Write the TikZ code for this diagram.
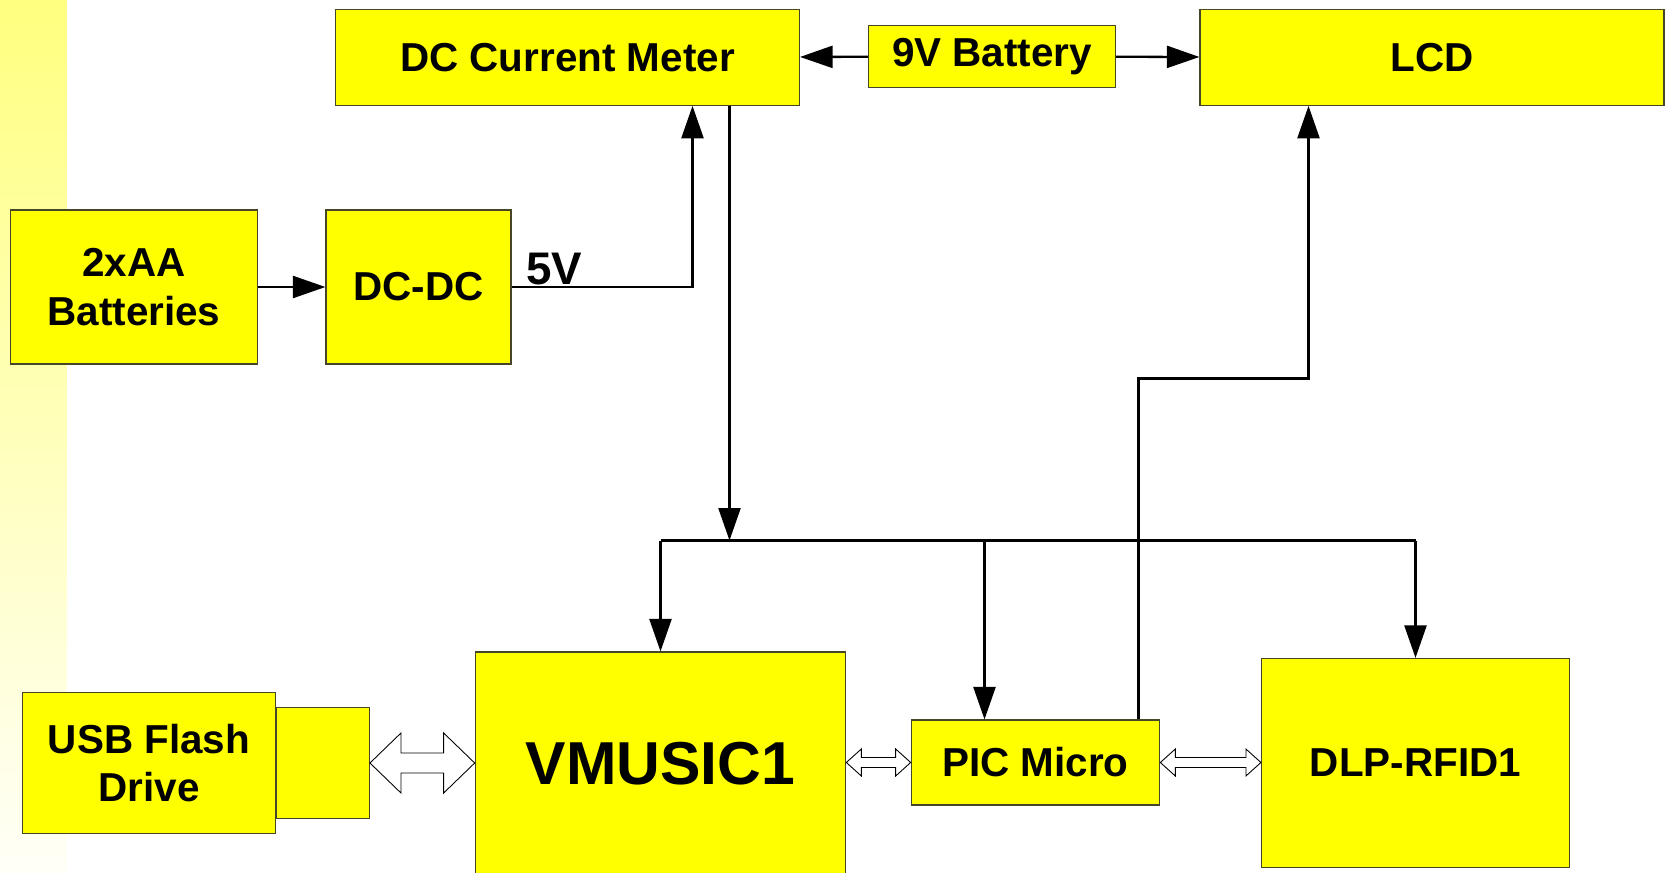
\documentclass[tikz,border=0pt]{standalone}
\usepackage{fontspec}
\setmainfont{Liberation Sans}
\usepackage{tikz}
\usetikzlibrary{arrows.meta, calc}

\definecolor{boxyellow}{RGB}{255,255,0}
\definecolor{boxline}{RGB}{70,70,40}

\tikzstyle{block} = [
  rectangle, draw=boxline, line width=0.65pt, fill=boxyellow,
  align=center, inner sep=0pt,
  font=\fontsize{23}{27.5}\selectfont\bfseries
]
\tikzstyle{arrow} = [-{Triangle[length=6.5mm, width=4.4mm]}, line width=1.3pt]
\tikzstyle{wire} = [line width=1.3pt]
\tikzstyle{biarrowline} = [draw=black, fill=white, line width=0.5pt]

% open double arrow between two points: left, right, half head width, half shaft width, head length
\newcommand{\biarrow}[5]{%
  \path[biarrowline] let \p1=#1, \p2=#2 in
    (\x1,\y1) -- (\x1+#5,\y1+#3) -- (\x1+#5,\y1+#4) -- (\x2-#5,\y1+#4)
    -- (\x2-#5,\y1+#3) -- (\x2,\y1) -- (\x2-#5,\y1-#3) -- (\x2-#5,\y1-#4)
    -- (\x1+#5,\y1-#4) -- (\x1+#5,\y1-#3) -- cycle;
}

\begin{document}
\begin{tikzpicture}

  \useasboundingbox (0, 0) rectangle (33.3, -17.46);
  \shade[top color=boxyellow!50, bottom color=boxyellow!3] (0, 0) rectangle (1.33, -17.46);

  % top row
  \node[block, minimum width=9.28cm, minimum height=1.91cm] (meter) at (11.35, -1.15) {DC Current Meter};
  \node[block, minimum width=4.93cm, minimum height=1.23cm] (batt) at (19.84, -1.13) {9V Battery};
  \node[block, minimum width=9.28cm, minimum height=1.91cm] (lcd) at (28.64, -1.15) {LCD};

  % power supply
  \node[block, minimum width=4.93cm, minimum height=3.08cm] (aa) at (2.68, -5.74) {2xAA\\Batteries};
  \node[block, minimum width=3.70cm, minimum height=3.08cm] (dcdc) at (8.37, -5.74) {DC-DC};

  % bottom row
  \node[block, minimum width=5.07cm, minimum height=2.82cm] (usb) at (2.98, -15.26) {USB Flash\\Drive};
  \node[block, minimum width=1.85cm, minimum height=2.23cm, anchor=west] (plug) at (usb.east) {};
  \node[block, minimum width=7.41cm, minimum height=4.48cm, font=\fontsize{34.5}{40}\selectfont\bfseries] (vmusic) at (13.21, -15.28) {VMUSIC1};
  \node[block, minimum width=4.97cm, minimum height=1.70cm] (pic) at (20.71, -15.25) {PIC Micro};
  \node[block, minimum width=6.16cm, minimum height=4.18cm] (dlp) at (28.31, -15.26) {DLP-RFID1};

  \coordinate (busL) at (13.21, -10.81);
  \coordinate (busR) at (28.31, -10.81);

  \draw[arrow] (aa) -- (dcdc);
  \draw[arrow] (batt) -- (meter);
  \draw[arrow] (batt) -- (lcd);
  \draw[arrow] (dcdc.east) node[anchor=base west, xshift=0.15cm, yshift=0.06cm, font=\fontsize{26}{30}\selectfont\bfseries] {5V}
    -| ([xshift=2.5cm]meter.south);

  \draw[arrow] ([xshift=3.24cm]meter.south) -- ([xshift=3.24cm]meter.south |- busL);
  \draw[wire] (busL) -- (busR);
  \draw[arrow] (busL) -- (vmusic.north);
  \draw[arrow] ([xshift=-1.02cm]pic.north |- busL) -- ([xshift=-1.02cm]pic.north);
  \draw[arrow] (busR) -- (dlp.north);
  \draw[arrow] ([xshift=2.06cm]pic.north) -- ++(0, 6.82) -| ([xshift=-2.47cm]lcd.south);

  \biarrow{(plug.east)}{(plug.east -| vmusic.west)}{0.6cm}{0.2cm}{0.62cm}
  \biarrow{(pic.west -| vmusic.east)}{(pic.west)}{0.27cm}{0.1cm}{0.3cm}
  \biarrow{(pic.east)}{(pic.east -| dlp.west)}{0.27cm}{0.1cm}{0.3cm}

\end{tikzpicture}
\end{document}
